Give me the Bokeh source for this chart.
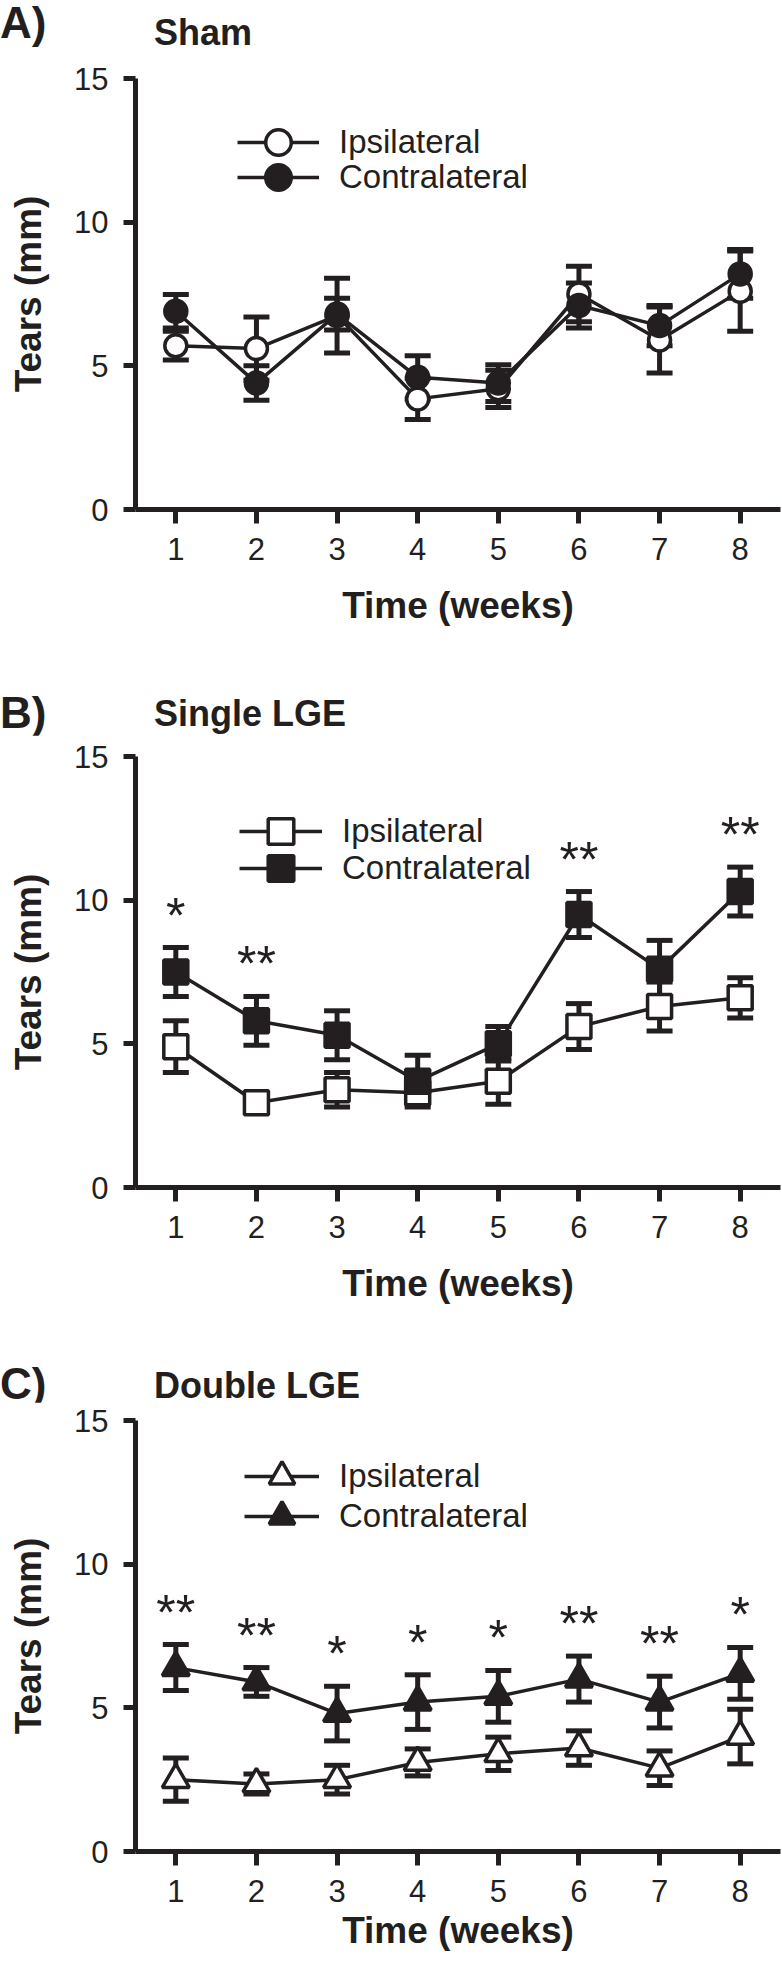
from bokeh.plotting import figure
from bokeh.models import (ColumnDataSource, Whisker, TeeHead, FixedTicker, Legend,
                          LegendItem, Range1d, Div)
from bokeh.layouts import column
from bokeh.embed import file_html
from bokeh.resources import INLINE
from bokeh.core.properties import value

# ---------------- data ----------------
weeks = [1, 2, 3, 4, 5, 6, 7, 8]
y_ticks = [0, 5, 10, 15]
series_labels = ["Ipsilateral", "Contralateral"]
x_title = "Time (weeks)"
y_title = "Tears (mm)"
panel_letters = ["A)", "B)", "C)"]
panel_titles = ["Sham", "Single LGE", "Double LGE"]

# A) Sham
sham_ipsi = [5.7, 5.6, 6.75, 3.85, 4.2, 7.5, 5.9, 7.6]
sham_ipsi_sem = [0.5, 1.1, 1.3, 0.72, 0.65, 0.97, 1.15, 1.4]
sham_contra = [6.9, 4.4, 6.8, 4.6, 4.4, 7.1, 6.4, 8.2]
sham_contra_sem = [0.58, 0.6, 0.55, 0.75, 0.64, 0.78, 0.7, 0.85]
sham_stars = ["", "", "", "", "", "", "", ""]

# B) Single LGE
single_ipsi = [4.9, 2.95, 3.4, 3.3, 3.7, 5.6, 6.3, 6.6]
single_ipsi_sem = [0.9, 0.2, 0.6, 0.4, 0.8, 0.8, 0.85, 0.7]
single_contra = [7.5, 5.8, 5.3, 3.7, 5.0, 9.5, 7.6, 10.3]
single_contra_sem = [0.85, 0.85, 0.85, 0.9, 0.6, 0.8, 1.0, 0.85]
single_stars = ["*", "**", "", "", "", "**", "", "**"]

# C) Double LGE
double_ipsi = [2.5, 2.35, 2.5, 3.1, 3.4, 3.6, 2.9, 4.0]
double_ipsi_sem = [0.75, 0.35, 0.5, 0.47, 0.58, 0.6, 0.6, 0.95]
double_contra = [6.4, 5.9, 4.8, 5.2, 5.4, 6.0, 5.2, 6.2]
double_contra_sem = [0.8, 0.5, 0.95, 0.95, 0.9, 0.8, 0.9, 0.9]
double_stars = ["**", "**", "*", "*", "*", "**", "**", "*"]

INK = "#231f20"
FONT = "Liberation Sans"
W = 782
ASC = 0.8465  # baseline position inside a 1em line box (Liberation Sans)


def header(height, letter, letter_base, title, title_base):
    def span(txt, left, base, size):
        top = base - ASC * size
        return (f'<span style="position:absolute;left:{left}px;top:{top:.1f}px;'
                f'font-family:\'{FONT}\';font-weight:bold;font-size:{size}px;'
                f'line-height:{size}px;color:{INK};white-space:nowrap;">{txt}</span>')
    html = (f'<div style="position:relative;width:{W}px;height:{height}px;">'
            + span(letter, 0, letter_base, 44)
            + span(title, 154, title_base, 36)
            + '</div>')
    return Div(text=html, width=W, height=height, margin=(0, 0, 0, 0))


def make_panel(marker, ipsi, ipsi_sem, contra, contra_sem, stars,
               border_top, border_bottom, xlabel_standoff, legend_spec, marker_size):
    p = figure(frame_width=645, frame_height=431,
               x_range=Range1d(0.5, 8.5), y_range=Range1d(0, 15),
               output_backend="svg", toolbar_location=None,
               min_border_left=135, min_border_right=2,
               min_border_top=border_top, min_border_bottom=border_bottom,
               background_fill_color="white", border_fill_color="white",
               outline_line_color=None)
    p.xgrid.visible = False
    p.ygrid.visible = False

    for ax, tl in ((p.xaxis[0], 14), (p.yaxis[0], 12)):
        ax.axis_line_width = 5
        ax.axis_line_color = INK
        ax.major_tick_line_width = 5
        ax.major_tick_line_color = INK
        ax.major_tick_in = 0
        ax.major_tick_out = tl
        ax.minor_tick_line_color = None
        ax.major_label_text_font = FONT
        ax.major_label_text_font_size = "31px"
        ax.major_label_text_color = INK
        ax.axis_label_text_font = FONT
        ax.axis_label_text_font_size = "37px"
        ax.axis_label_text_font_style = "bold"
        ax.axis_label_text_color = INK
    p.xaxis.ticker = FixedTicker(ticks=weeks)
    p.yaxis.ticker = FixedTicker(ticks=y_ticks)
    p.xaxis.major_label_standoff = 14
    p.yaxis.major_label_standoff = 15
    p.xaxis.axis_label = x_title
    p.xaxis.axis_label_standoff = xlabel_standoff
    p.yaxis.axis_label = y_title
    p.yaxis.axis_label_standoff = 22

    renderers = []
    for vals, sems, fill in ((ipsi, ipsi_sem, "white"), (contra, contra_sem, INK)):
        src = ColumnDataSource(dict(
            x=weeks, y=vals,
            upper=[v + s for v, s in zip(vals, sems)],
            lower=[v - s for v, s in zip(vals, sems)]))
        w = Whisker(base="x", upper="upper", lower="lower", source=src,
                    level="underlay", line_width=5, line_color=INK,
                    upper_head=TeeHead(size=26, line_width=5, line_color=INK),
                    lower_head=TeeHead(size=26, line_width=5, line_color=INK))
        p.add_layout(w)
        lr = p.line("x", "y", source=src, line_width=3.5, line_color=INK)
        sr = p.scatter("x", "y", source=src, marker=marker, size=marker_size,
                       fill_color=fill, line_color=INK, line_width=3.5)
        renderers.append((lr, sr))

    # significance stars above the contralateral error bars
    sx = [w for w, s in zip(weeks, stars) if s]
    sy = [v + e for v, e, s in zip(contra, contra_sem, stars) if s]
    st = [s for s in stars if s]
    if st:
        p.text(x=sx, y=sy, text=st, text_font=value(FONT), text_font_size="50px",
               text_align="center", text_baseline="middle", y_offset=-32,
               text_color=INK)

    # one legend per row so the rows can sit close together with large glyphs
    lx, ly1, ly2, gw = legend_spec
    for (lr, sr), lab, ly in zip(renderers, series_labels, (ly1, ly2)):
        lg = Legend(items=[LegendItem(label=lab, renderers=[lr, sr])],
                    location=(lx, ly), glyph_width=gw, glyph_height=64,
                    label_height=20, padding=0, margin=0,
                    border_line_color=None, background_fill_alpha=0,
                    label_standoff=20, label_text_font=FONT,
                    label_text_font_size="33px", label_text_color=INK)
        p.add_layout(lg)
    return p


hdrA = header(50, panel_letters[0], 38, panel_titles[0], 45)
pA = make_panel("circle", sham_ipsi, sham_ipsi_sem, sham_contra, sham_contra_sem,
                sham_stars, 28, 181, 22, (102, 335, 300, 82), 22)
hdrB = header(45, panel_letters[1], 38, panel_titles[1], 36)
pB = make_panel("square", single_ipsi, single_ipsi_sem, single_contra,
                single_contra_sem, single_stars, 21, 178, 22, (104, 324, 287, 83), 24)
hdrC = header(37, panel_letters[2], 34, panel_titles[2], 33.5)
pC = make_panel("triangle", double_ipsi, double_ipsi_sem, double_contra,
                double_contra_sem, double_stars, 18, 110, 5, (109, 343, 303, 75), 27)

layout = column(hdrA, pA, hdrB, pB, hdrC, pC, spacing=0)
open("out.html", "w").write(file_html(layout, INLINE))
